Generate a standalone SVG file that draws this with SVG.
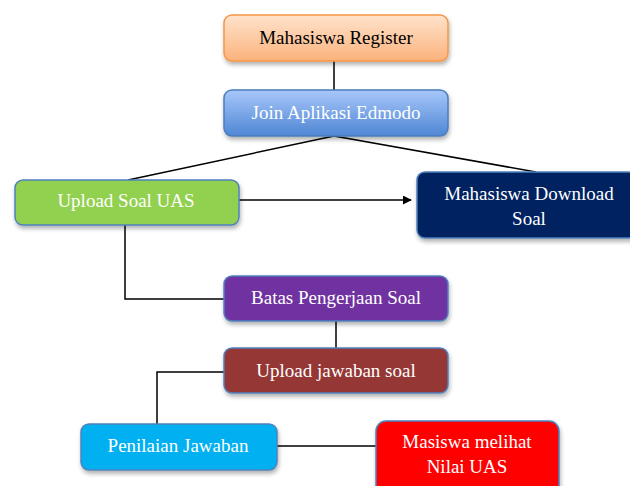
<svg xmlns="http://www.w3.org/2000/svg" width="630" height="486" viewBox="0 0 630 486">
<defs>
<linearGradient id="gOrange" x1="0" y1="0" x2="0" y2="1"><stop offset="0" stop-color="#ffe3cc"/><stop offset="1" stop-color="#fbb27c"/></linearGradient>
<linearGradient id="gBlue" x1="0" y1="0" x2="0" y2="1"><stop offset="0" stop-color="#a8c7fa"/><stop offset="1" stop-color="#4f86d4"/></linearGradient>
<filter id="sh" x="-10%" y="-20%" width="120%" height="150%"><feDropShadow dx="1" dy="3" stdDeviation="2" flood-color="#000" flood-opacity="0.3"/></filter>
<marker id="arr" viewBox="0 0 10 10" refX="9" refY="5" markerWidth="9" markerHeight="9" markerUnits="userSpaceOnUse" orient="auto"><path d="M0,0 L10,5 L0,10 z" fill="#000"/></marker>
</defs>
<style>
.box{stroke-width:1.5;filter:url(#sh)}
text{font-family:"Liberation Serif","Times New Roman",serif;font-size:19px;text-anchor:middle}
.w{fill:#fff}
.k{fill:#000}
.c{stroke:#000;stroke-width:1.5;fill:none}
</style>
<g id="connectors">
<line class="c" x1="334" y1="61" x2="334" y2="90"/>
<line class="c" x1="334" y1="136" x2="128" y2="180"/>
<line class="c" x1="334" y1="136" x2="536" y2="172"/>
<line class="c" x1="239" y1="200" x2="411" y2="200" marker-end="url(#arr)"/>
<polyline class="c" points="125,225 125,299 224,299"/>
<line class="c" x1="336" y1="321" x2="336" y2="348"/>
<polyline class="c" points="224,372 157,372 157,424"/>
<line class="c" x1="277" y1="446" x2="376" y2="446"/>
</g>
<g id="n1"><rect class="box" x="224" y="15" width="224" height="46" rx="8" fill="url(#gOrange)" stroke="#f79646"/><text class="k" x="336" y="44">Mahasiswa Register</text></g>
<g id="n2"><rect class="box" x="224" y="90" width="224" height="46" rx="8" fill="url(#gBlue)" stroke="#4a7ebb"/><text class="w" x="336" y="119">Join Aplikasi Edmodo</text></g>
<g id="n3"><rect class="box" x="15" y="180" width="224" height="45" rx="8" fill="#92d050" stroke="#4f81bd"/><text class="w" x="126" y="207">Upload Soal UAS</text></g>
<g id="n4"><rect class="box" x="417" y="172" width="220" height="66" rx="8" fill="#002060" stroke="#4f81bd"/><text class="w" x="529" y="200">Mahasiswa Download</text><text class="w" x="529" y="225">Soal</text></g>
<g id="n5"><rect class="box" x="224" y="276" width="224" height="45" rx="8" fill="#7030a0" stroke="#4f81bd"/><text class="w" x="336" y="304">Batas Pengerjaan Soal</text></g>
<g id="n6"><rect class="box" x="224" y="348" width="224" height="45" rx="8" fill="#953735" stroke="#4f81bd"/><text class="w" x="336" y="377">Upload jawaban soal</text></g>
<g id="n7"><rect class="box" x="81" y="424" width="196" height="46" rx="8" fill="#00b0f0" stroke="#4f81bd"/><text class="w" x="178" y="452">Penilaian Jawaban</text></g>
<g id="n8"><rect class="box" x="376" y="421" width="183" height="75" rx="10" fill="#ff0000" stroke="#4f81bd"/><text class="w" x="467" y="448">Masiswa melihat</text><text class="w" x="467" y="473">Nilai UAS</text></g>
</svg>
